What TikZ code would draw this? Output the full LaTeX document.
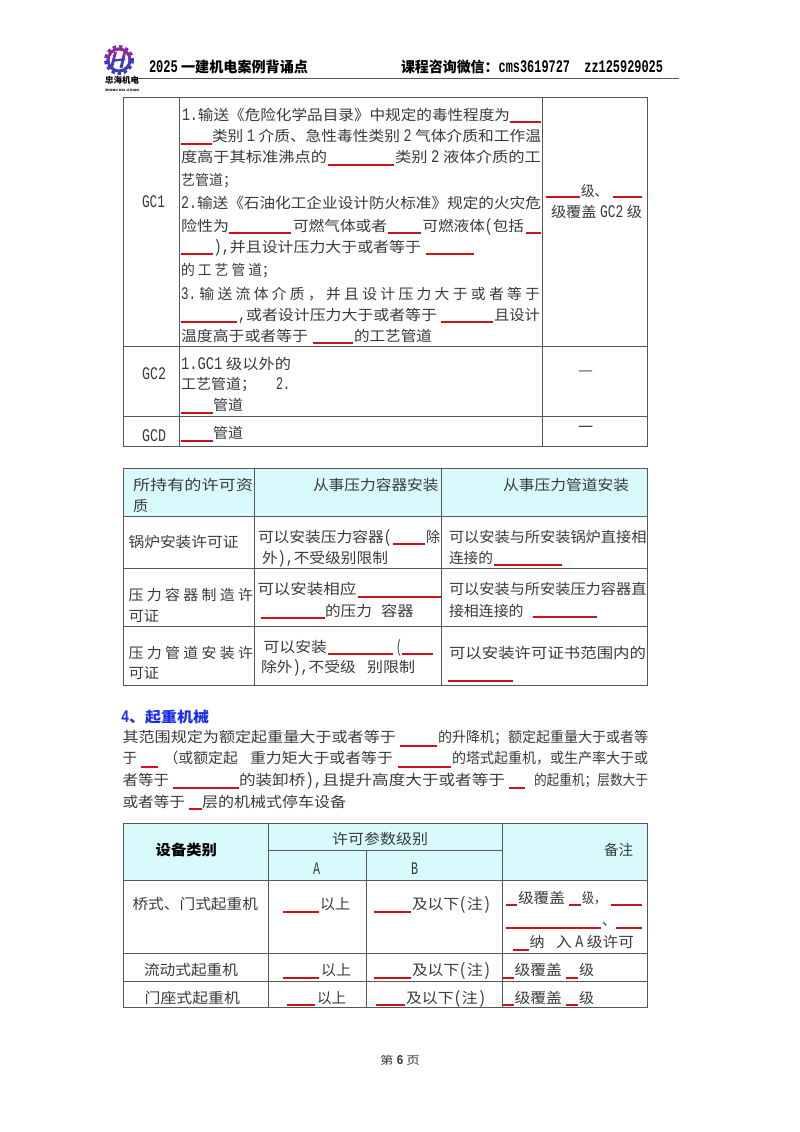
\documentclass[tikz,border=0pt]{standalone}
\usepackage{graphicx}
\usepackage{fontspec}
\setmainfont{Noto Sans CJK SC}
\newfontfamily\ltnfont[Scale=1.22]{Liberation Mono}
\newcommand{\ltn}[1]{\scalebox{0.7}[1]{\ltnfont #1}}
\definecolor{txt}{HTML}{3A3A3A}
\definecolor{rul}{HTML}{585858}
\definecolor{rd}{HTML}{CC1418}
\definecolor{hdr}{HTML}{D8FAFC}
\definecolor{bl}{HTML}{1A2CF0}
\definecolor{pu1}{HTML}{8A2BA6}
\definecolor{pu2}{HTML}{3D3DB4}
\newcount\tcnt
\tikzset{
 pagetext/.style={anchor=base west,inner sep=0pt,outer sep=0pt,text=txt,font=\fontsize{14.5}{16}\selectfont},
 ruleline/.style={draw=rul,line width=0.9pt},
 redline/.style={draw=rd,line width=1.5pt},
}
% x0, x1, y-centre, text
\newcommand{\tx}[4]{\global\advance\tcnt by 1 \node[pagetext] (t\the\tcnt) at (#1,#3+5) {\resizebox{\dimexpr #2pt-#1pt\relax}{\height}{#4}};}
\newcommand{\txb}[5]{\global\advance\tcnt by 1 \node[pagetext,text=#5] (t\the\tcnt) at (#1,#3+5) {\resizebox{\dimexpr #2pt-#1pt\relax}{\height}{\bfseries #4}};}
\newcommand{\rl}[3]{\draw[redline] (#1,#3) -- (#2,#3);}
\begin{document}
\begin{tikzpicture}[x=1pt,y=-1pt]
\useasboundingbox (0,0) rectangle (800,1132);
\fill[white] (0,0) rectangle (800,1132);
% ---------- header
\foreach \cc/\ya/\yb in {pu1/44/60,pu2/60/76}{
 \begin{scope}
 \clip (100,\ya) rectangle (140,\yb);
 \draw[\cc,line width=3.4pt,dash pattern=on 3.4pt off 2.8pt] (119,60) circle (13.2);
 \draw[\cc,line width=3pt] (119,60) circle (11);
 \draw[\cc,line width=2.8pt] (115.5,52) -- (111.5,68);
 \draw[\cc,line width=2.8pt] (125,51) -- (121,68);
 \draw[\cc,line width=2.2pt] (112,61) -- (125,59);
 \end{scope}}
\txb{105}{139}{79}{\fontsize{8.5}{9}\selectfont 忠海机电}{black}
\txb{105}{139}{86.5}{\fontsize{3}{3.5}\selectfont ZHONG HAI JI DIAN}{black}
\txb{149}{308}{68}{\ltn{2025} 一建机电案例背诵点}{black}
\txb{401}{663}{68}{课程咨询微信：\ltn{cms3619727\ \ zz125929025}}{black}
\draw[draw=rul,line width=1pt] (138,78) -- (679,78);
% ---------- table 1 rules
\draw[ruleline] (123,97) rectangle (647,446);
\draw[ruleline] (179.5,97) -- (179.5,446) (542,97) -- (542,446);
\draw[ruleline] (123,346) -- (647,346) (123,416) -- (647,416);
% GC1
\tx{142}{165}{202}{\ltn{GC1}}
\tx{182}{510}{116}{\ltn{1.}输送《危险化学品目录》中规定的毒性程度为}
\rl{510}{541}{122}
\rl{181}{212}{144}
\tx{212}{541}{136}{类别 \ltn{1} 介质、急性毒性类别 \ltn{2} 气体介质和工作温}
\tx{181}{327}{157}{度高于其标准沸点的}
\rl{328}{394}{165}
\tx{395}{541}{157}{类别 \ltn{2} 液体介质的工}
\tx{181}{237}{180}{艺管道；}
\tx{181}{541}{203}{\ltn{2.}输送《石油化工企业设计防火标准》规定的火灾危}
\tx{181}{229}{226}{险性为}
\rl{229}{291}{233}
\tx{293}{387}{226}{可燃气体或者}
\rl{388}{421}{233}
\tx{422.5}{524}{226}{可燃液体\ltn{(}包括}
\rl{526}{541}{233}
\rl{181}{213}{254}
\tx{213.6}{421}{247}{\ltn{),}并且设计压力大于或者等于}
\rl{426}{474}{254}
\tx{181}{276}{270}{的 工 艺 管 道；}
\tx{181}{540}{294}{\ltn{3.} 输 送 流 体 介 质 ， 并 且 设 计 压 力 大 于 或 者 等 于}
\rl{181}{237}{322}
\tx{238}{437}{315}{\ltn{,}或者设计压力大于或者等于}
\rl{441}{493}{322}
\tx{494}{540}{315}{且设计}
\tx{181}{308}{336}{温度高于或者等于}
\rl{312.5}{353}{343}
\tx{354}{432}{336}{的工艺管道}
\rl{546}{580}{197}
\tx{581}{608}{191}{级、}
\rl{612.5}{642}{197}
\tx{551}{642}{212}{级覆盖 \ltn{GC2} 级}
% GC2
\tx{142}{166}{374}{\ltn{GC2}}
\tx{181}{291}{364}{\ltn{1.GC1} 级以外的}
\tx{181}{256}{384}{工艺管道；}
\tx{276}{290}{384}{\ltn{2.}}
\rl{181}{213}{413}
\tx{213}{243}{405}{管道}
\tx{578}{593}{370}{—}
% GCD
\tx{142}{166}{436}{\ltn{GCD}}
\rl{181}{213}{441}
\tx{213}{243}{433}{管道}
\tx{578}{593}{427}{一}
% ---------- table 2
\fill[hdr] (123,468) rectangle (647,516);
\draw[ruleline] (123,468) rectangle (647,685);
\draw[ruleline] (254.5,468) -- (254.5,685) (441.5,468) -- (441.5,685);
\draw[ruleline] (123,516) -- (647,516) (123,568.5) -- (647,568.5) (123,626.5) -- (647,626.5);
\tx{133}{253}{485}{所持有的许可资}
\tx{133}{148}{506}{质}
\tx{313}{438.6}{485}{从事压力容器安装}
\tx{503}{629}{485}{从事压力管道安装}
\tx{128.6}{238.6}{542}{锅炉安装许可证}
\tx{258}{392}{537}{可以安装压力容器\ltn{(}}
\rl{393}{425}{544}
\tx{426}{440}{537}{除}
\tx{262}{388}{558}{外\ltn{),}不受级别限制}
\tx{449}{646.5}{537}{可以安装与所安装锅炉直接相}
\tx{449}{493}{558}{连接的}
\rl{494}{562}{565}
\tx{128.6}{253}{595}{压 力 容 器 制 造 许}
\tx{128.6}{159}{616}{可证}
\tx{257.5}{356.4}{589}{可以安装相应}
\rl{357.5}{441}{597}
\rl{261}{325}{618}
\tx{325}{372}{611}{的压力}
\tx{381}{413.6}{611}{容器}
\tx{449}{646.5}{589}{可以安装与所安装压力容器直}
\tx{449}{523.6}{611}{接相连接的}
\rl{533}{597}{617}
\tx{128.6}{253}{653}{压 力 管 道 安 装 许}
\tx{128.6}{159}{673}{可证}
\tx{263.6}{327}{647}{可以安装}
\rl{328}{393}{654}
\tx{396}{402}{647}{\ltn{(}}
\rl{402}{433}{654}
\tx{261}{356}{667}{除外\ltn{),}不受级}
\tx{367}{415}{667}{别限制}
\tx{449}{646}{653}{可以安装许可证书范围内的}
\rl{448}{512.5}{681}
% ---------- section 4
\txb{121}{209}{717}{\ltn{4}、起重机械}{bl}
\tx{122.5}{396}{737}{其范围规定为额定起重量大于或者等于}
\rl{400}{437}{746}
\tx{438}{648}{737}{的升降机；额定起重量大于或者等}
\tx{122.5}{137}{758}{于}
\rl{141}{157.5}{767}
\tx{163.6}{238}{758}{（或额定起}
\tx{250}{393}{758}{重力矩大于或者等于}
\rl{398}{451}{767}
\tx{452}{648}{758}{的塔式起重机，或生产率大于或}
\tx{122.5}{169}{780}{者等于}
\rl{173}{238.6}{788}
\tx{239}{505}{780}{的装卸桥\ltn{),}且提升高度大于或者等于}
\rl{509}{525}{788}
\tx{534}{648}{780}{的起重机；层数大于}
\tx{122.5}{185}{802}{或者等于}
\rl{189}{202}{809}
\tx{202}{346}{802}{层的机械式停车设备}
% ---------- table 3
\fill[hdr] (123,823) rectangle (647,880);
\draw[ruleline] (123,823) rectangle (647,1007.5);
\draw[ruleline] (268,823) -- (268,1007.5) (502,823) -- (502,1007.5) (366.5,850) -- (366.5,1007.5);
\draw[ruleline] (268,850) -- (502,850);
\draw[ruleline] (123,880) -- (647,880) (123,953.5) -- (647,953.5) (123,981) -- (647,981);
\txb{155.7}{217}{850}{设备类别}{black}
\tx{332}{428}{839}{许可参数级别}
\tx{313}{320}{869}{\ltn{A}}
\tx{411}{418}{869}{\ltn{B}}
\tx{604}{633}{850}{备注}
\tx{132.5}{258}{904}{桥式、门式起重机}
\rl{283}{319}{912}
\tx{320}{350}{904}{以上}
\rl{373.6}{411}{912}
\tx{412}{491}{904}{及以下\ltn{(}注\ltn{)}}
\rl{505.7}{517}{905}
\tx{518}{565}{898}{级覆盖}
\rl{569}{581}{905}
\tx{582}{606}{898}{级，}
\rl{611}{642}{905}
\rl{505.7}{601}{928}
\tx{602}{616}{920}{、}
\rl{616}{642}{928}
\rl{513}{528.6}{950}
\tx{529.6}{544.6}{942}{纳}
\tx{556}{634}{942}{入 \ltn{A} 级许可}
\tx{144}{238}{970}{流动式起重机}
\rl{282.5}{319}{978}
\tx{321}{351}{970}{以上}
\rl{373.6}{411}{978}
\tx{412}{491}{970}{及以下\ltn{(}注\ltn{)}}
\rl{503}{514}{978}
\tx{514.6}{562}{970}{级覆盖}
\rl{566}{578}{978}
\tx{579}{594}{970}{级}
\tx{144.6}{240}{998}{门座式起重机}
\rl{287}{315}{1005}
\tx{317}{346}{998}{以上}
\rl{376.4}{405}{1005}
\tx{406}{486}{998}{及以下\ltn{(}注\ltn{)}}
\rl{503}{514}{1005}
\tx{514.6}{562}{998}{级覆盖}
\rl{566}{578}{1005}
\tx{579}{594}{998}{级}
% ---------- footer
\tx{380}{420}{1059}{\fontsize{11}{12}\selectfont 第 \ltn{\textbf{6}} 页}
\end{tikzpicture}
\end{document}
